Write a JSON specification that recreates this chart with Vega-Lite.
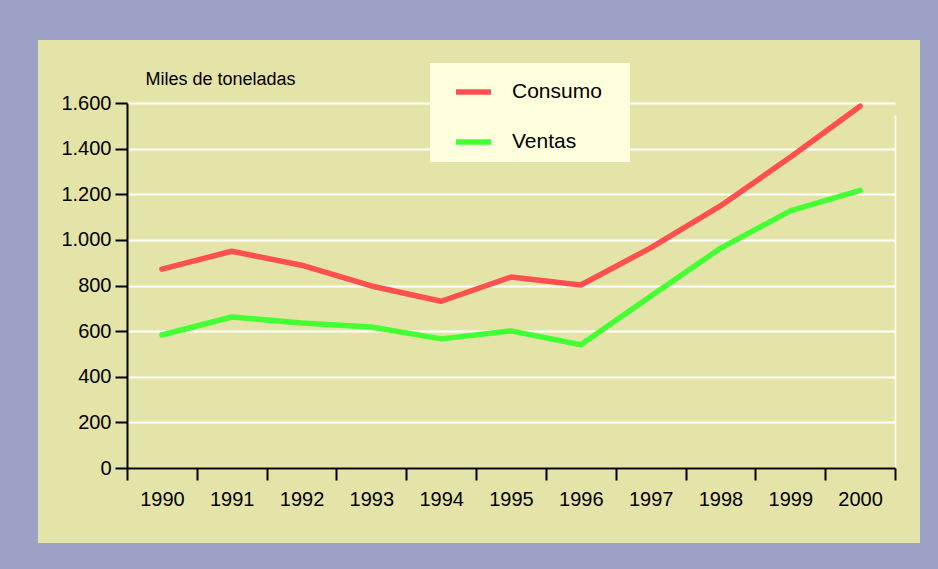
{
  "$schema": "https://vega.github.io/schema/vega-lite/v6.json",
  "width": 882,
  "height": 503,
  "padding": {"left": 38, "top": 40, "right": 18, "bottom": 26},
  "autosize": {"type": "pad"},
  "background": "#9CA2C6",
  "view": {"fill": "#E5E4A8", "stroke": null},
  "config": {
    "font": "Liberation Sans"
  },
  "data": {
    "values": [
      {"year": "1990", "serie": "Consumo", "value": 872},
      {"year": "1991", "serie": "Consumo", "value": 950},
      {"year": "1992", "serie": "Consumo", "value": 889},
      {"year": "1993", "serie": "Consumo", "value": 798},
      {"year": "1994", "serie": "Consumo", "value": 731},
      {"year": "1995", "serie": "Consumo", "value": 837},
      {"year": "1996", "serie": "Consumo", "value": 802},
      {"year": "1997", "serie": "Consumo", "value": 965},
      {"year": "1998", "serie": "Consumo", "value": 1149},
      {"year": "1999", "serie": "Consumo", "value": 1362},
      {"year": "2000", "serie": "Consumo", "value": 1586},
      {"year": "1990", "serie": "Ventas", "value": 583},
      {"year": "1991", "serie": "Ventas", "value": 662},
      {"year": "1992", "serie": "Ventas", "value": 636},
      {"year": "1993", "serie": "Ventas", "value": 618},
      {"year": "1994", "serie": "Ventas", "value": 566},
      {"year": "1995", "serie": "Ventas", "value": 601},
      {"year": "1996", "serie": "Ventas", "value": 540},
      {"year": "1997", "serie": "Ventas", "value": 753},
      {"year": "1998", "serie": "Ventas", "value": 963},
      {"year": "1999", "serie": "Ventas", "value": 1127},
      {"year": "2000", "serie": "Ventas", "value": 1217}
    ]
  },
  "mark": {"type": "line", "strokeWidth": 5.5, "strokeCap": "round", "strokeJoin": "round"},
  "encoding": {
    "x": {
      "field": "year",
      "type": "ordinal",
      "scale": {"type": "band", "range": [89, 857], "paddingInner": 0, "paddingOuter": 0},
      "axis": {
        "title": null,
        "offset": -75,
        "labelAngle": 0,
        "labelFontSize": 20,
        "labelColor": "#000000",
        "labelPadding": 9,
        "domainColor": "#000000",
        "domainWidth": 2,
        "tickColor": "#000000",
        "tickWidth": 2,
        "tickSize": 12,
        "tickBand": "extent",
        "grid": true,
        "gridColor": "#FFFFFF",
        "gridWidth": 1.5,
        "gridOpacity": {"condition": {"test": "datum.value === '2000'", "value": 1}, "value": 0}
      }
    },
    "y": {
      "field": "value",
      "type": "quantitative",
      "scale": {"domain": [0, 1600], "range": [428, 63], "nice": false, "zero": true},
      "axis": {
        "title": "Miles de toneladas",
        "titleAngle": 0,
        "titleAlign": "left",
        "titleBaseline": "alphabetic",
        "titleX": 18,
        "titleY": 44,
        "titleFontSize": 18,
        "titleFontWeight": "normal",
        "titleColor": "#000000",
        "offset": -89,
        "values": [0, 200, 400, 600, 800, 1000, 1200, 1400, 1600],
        "labelExpr": "replace(format(datum.value, ','), ',', '.')",
        "labelFontSize": 20,
        "labelColor": "#000000",
        "labelPadding": 4,
        "domainColor": "#000000",
        "domainWidth": 2,
        "tickColor": "#000000",
        "tickWidth": 2,
        "tickSize": 12,
        "grid": true,
        "gridColor": "#FFFFFF",
        "gridWidth": 2
      }
    },
    "color": {
      "field": "serie",
      "type": "nominal",
      "scale": {"domain": ["Consumo", "Ventas"], "range": ["#FF5050", "#44FF33"]},
      "legend": {
        "title": " ",
        "titleOrient": "right",
        "titleFontSize": 20,
        "titlePadding": 19.5,
        "orient": "none",
        "legendX": 392,
        "legendY": 23,
        "fillColor": "#FFFFDD",
        "padding": 8.5,
        "symbolType": "stroke",
        "symbolSize": 1225,
        "symbolStrokeWidth": 5.5,
        "symbolOffset": 14.5,
        "labelFontSize": 21,
        "labelColor": "#000000",
        "labelOffset": 18,
        "rowPadding": 18
      }
    }
  }
}
